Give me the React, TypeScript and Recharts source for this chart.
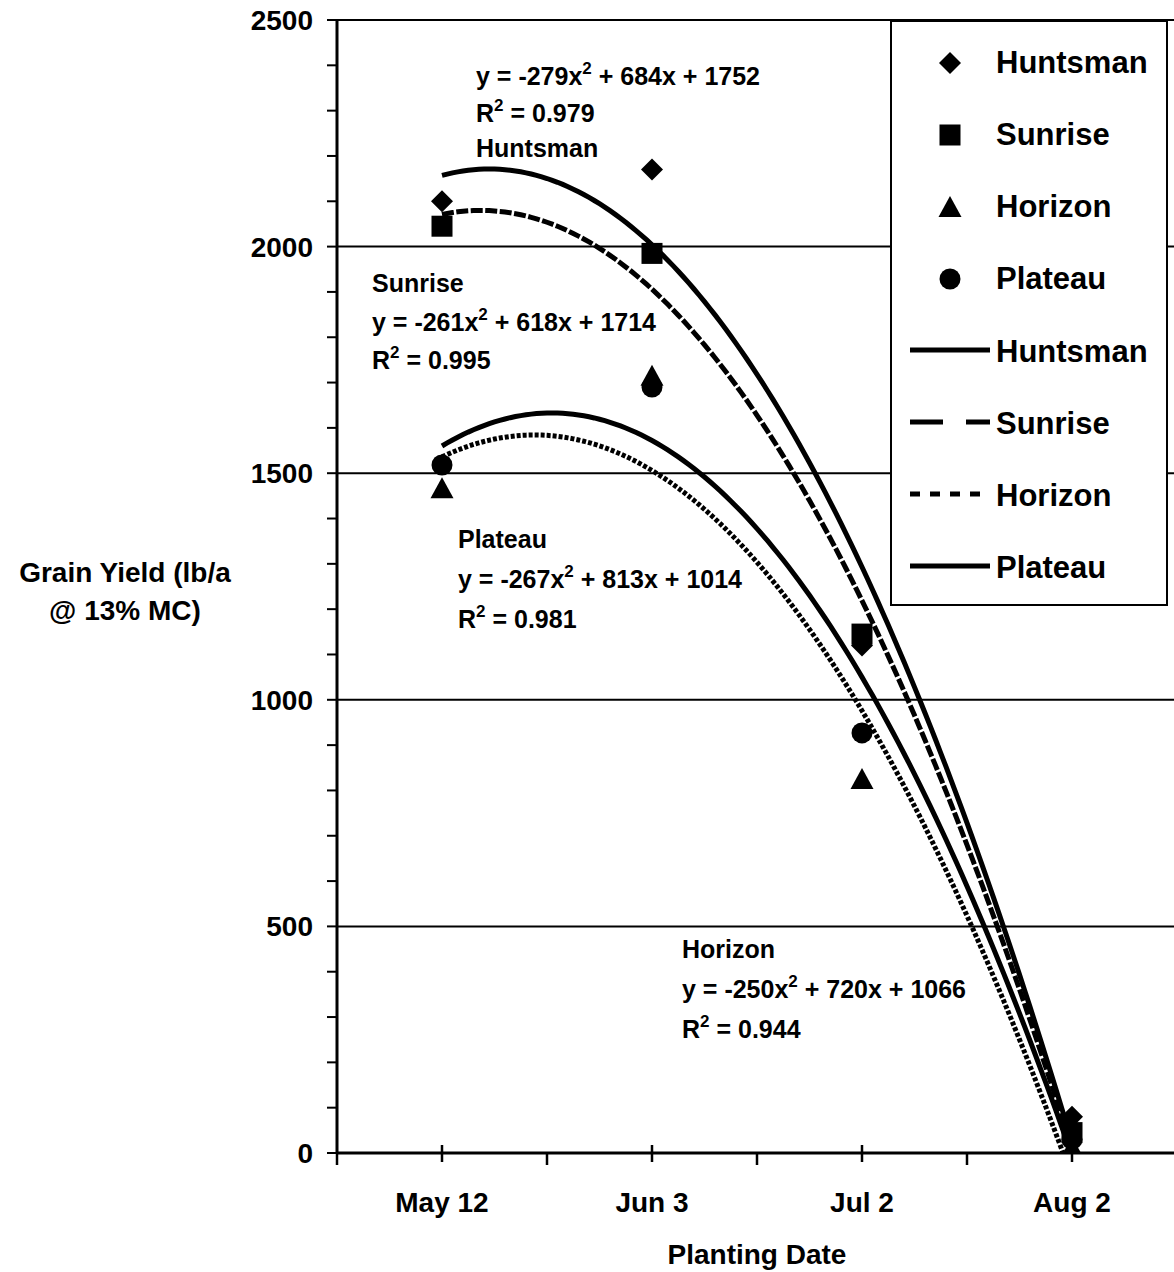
import React from "react";
import {
  ComposedChart,
  Line,
  Scatter,
  XAxis,
  YAxis,
  ReferenceLine,
} from "recharts";

// Planting dates (category positions 1..4)
const categories = ["May 12", "Jun 3", "Jul 2", "Aug 2"];
const positions = [1, 2, 3, 4];

// Observed grain yield (lb/a) per variety
const huntsman = [2100, 2170, 1120, 80];
const sunrise = [2045, 1985, 1145, 45];
const horizon = [1467, 1715, 825, 12];
const plateau = [1518, 1690, 927, 30];

// Quadratic trendline coefficients [a, b, c] from the chart: y = ax^2 + bx + c
const huntsmanFit = [-279, 684, 1752];
const sunriseFit = [-261, 618, 1714];
const horizonFit = [-250, 720, 1066];
const plateauFit = [-267, 813, 1014];

const yTicks = Array.from({ length: 26 }, (_, i) => i * 100);
const xTicks = [0.5, 1, 1.5, 2, 2.5, 3, 3.5, 4, 4.5];
const gridValues = [500, 1000, 1500, 2000, 2500];

const FONT = "'Liberation Sans', Arial, sans-serif";

const toPoints = (vals: number[]) =>
  vals.map((v, i) => ({ x: positions[i], y: v }));

const quad = (c: number[], x: number) => c[0] * x * x + c[1] * x + c[2];

// trendline drawn across the planting dates
const fitData = Array.from({ length: 121 }, (_, i) => {
  const x = 1 + i * 0.025;
  return {
    x,
    huntsman: quad(huntsmanFit, x),
    sunrise: quad(sunriseFit, x),
    horizon: quad(horizonFit, x),
    plateau: quad(plateauFit, x),
  };
});

const Diamond = ({ cx, cy }: any) => (
  <path d={`M${cx},${cy - 11}L${cx + 11},${cy}L${cx},${cy + 11}L${cx - 11},${cy}Z`} fill="#000" />
);
const Square = ({ cx, cy }: any) => (
  <rect x={cx - 10.5} y={cy - 10.5} width={21} height={21} fill="#000" />
);
const Triangle = ({ cx, cy }: any) => (
  <path d={`M${cx},${cy - 11}L${cx + 11.5},${cy + 10}L${cx - 11.5},${cy + 10}Z`} fill="#000" />
);
const Circle = ({ cx, cy }: any) => <circle cx={cx} cy={cy} r={10.5} fill="#000" />;

const XTick = ({ x, y, payload }: any) => {
  const v = payload.value;
  const major = Number.isInteger(v);
  return (
    <g>
      <line x1={x} x2={x} y1={major ? y - 8 : y} y2={major ? y + 9 : y + 12} stroke="#000" strokeWidth={2.5} />
      {major && (
        <text x={x} y={y + 59} textAnchor="middle" fontFamily={FONT} fontWeight="bold" fontSize={28} fill="#000">
          {categories[v - 1]}
        </text>
      )}
    </g>
  );
};

const YTick = ({ x, y, payload }: any) => {
  if (payload.value % 500 !== 0) return <g />;
  return (
    <text x={x} y={y + 10} textAnchor="end" fontFamily={FONT} fontWeight="bold" fontSize={28} fill="#000">
      {payload.value}
    </text>
  );
};

const Eq = ({ x, y, a, b, c }: any) => (
  <text x={x} y={y} fontFamily={FONT} fontWeight="bold" fontSize={25} fill="#000">
    {`y = ${a}x`}
    <tspan dy={-11} fontSize={17}>2</tspan>
    <tspan dy={11}>{` + ${b}x + ${c}`}</tspan>
  </text>
);
const R2 = ({ x, y, r }: any) => (
  <text x={x} y={y} fontFamily={FONT} fontWeight="bold" fontSize={25} fill="#000">
    R<tspan dy={-11} fontSize={17}>2</tspan>
    <tspan dy={11}>{` = ${r}`}</tspan>
  </text>
);
const Lbl = ({ x, y, t }: any) => (
  <text x={x} y={y} fontFamily={FONT} fontWeight="bold" fontSize={25} fill="#000">
    {t}
  </text>
);

const legendMarkers = [
  { name: "Huntsman", Shape: Diamond },
  { name: "Sunrise", Shape: Square },
  { name: "Horizon", Shape: Triangle },
  { name: "Plateau", Shape: Circle },
];
const legendLines = [
  { name: "Huntsman", dash: undefined },
  { name: "Sunrise", dash: "33 23" },
  { name: "Horizon", dash: "10 10" },
  { name: "Plateau", dash: undefined },
];

export default function App() {
  return (
    <div style={{ position: "absolute", left: 0, top: 0, width: 1174, height: 1272, overflow: "hidden", background: "#fff" }}>
      <ComposedChart
        width={1180}
        height={1272}
        data={fitData}
        margin={{ top: 20, right: 3, left: 0, bottom: 0 }}
      >
        {gridValues.map((v) => (
          <ReferenceLine key={v} y={v} stroke="#000" strokeWidth={2} />
        ))}
        <XAxis
          type="number"
          dataKey="x"
          domain={[0.5, 4.5]}
          ticks={xTicks}
          interval={0}
          height={119}
          tickSize={0}
          tickMargin={0}
          tickLine={false}
          tick={<XTick />}
          axisLine={{ stroke: "#000", strokeWidth: 3 }}
          label={{
            value: "Planting Date",
            position: "insideBottom",
            offset: 8,
            style: { fontFamily: FONT, fontWeight: "bold", fontSize: 28, fill: "#000" },
          }}
        />
        <YAxis
          type="number"
          domain={[0, 2500]}
          allowDataOverflow
          ticks={yTicks}
          interval={0}
          width={337}
          tickSize={10}
          tickMargin={14}
          tick={<YTick />}
          tickLine={{ stroke: "#000", strokeWidth: 2 }}
          axisLine={{ stroke: "#000", strokeWidth: 3 }}
        />
        <Scatter name="Huntsman" data={toPoints(huntsman)} dataKey="y" shape={Diamond} isAnimationActive={false} />
        <Scatter name="Sunrise" data={toPoints(sunrise)} dataKey="y" shape={Square} isAnimationActive={false} />
        <Scatter name="Horizon" data={toPoints(horizon)} dataKey="y" shape={Triangle} isAnimationActive={false} />
        <Scatter name="Plateau" data={toPoints(plateau)} dataKey="y" shape={Circle} isAnimationActive={false} />
        <Line dataKey="huntsman" type="linear" stroke="#000" strokeWidth={5} dot={false} activeDot={false} isAnimationActive={false} />
        <Line dataKey="sunrise" type="linear" stroke="#000" strokeWidth={5} strokeDasharray="12 2.5" dot={false} activeDot={false} isAnimationActive={false} />
        <Line dataKey="horizon" type="linear" stroke="#000" strokeWidth={5} strokeDasharray="4 2" dot={false} activeDot={false} isAnimationActive={false} />
        <Line dataKey="plateau" type="linear" stroke="#000" strokeWidth={5} dot={false} activeDot={false} isAnimationActive={false} />
      </ComposedChart>

      <svg width={1174} height={1272} style={{ position: "absolute", left: 0, top: 0, pointerEvents: "none" }}>
        {/* y-axis title */}
        <text x={125} y={582} textAnchor="middle" fontFamily={FONT} fontWeight="bold" fontSize={28} fill="#000">
          Grain Yield (lb/a
        </text>
        <text x={125} y={620} textAnchor="middle" fontFamily={FONT} fontWeight="bold" fontSize={28} fill="#000">
          @ 13% MC)
        </text>

        {/* trendline annotations */}
        <Eq x={476} y={85} a={huntsmanFit[0]} b={huntsmanFit[1]} c={huntsmanFit[2]} />
        <R2 x={476} y={122} r="0.979" />
        <Lbl x={476} y={157} t="Huntsman" />

        <Lbl x={372} y={292} t="Sunrise" />
        <Eq x={372} y={331} a={sunriseFit[0]} b={sunriseFit[1]} c={sunriseFit[2]} />
        <R2 x={372} y={369} r="0.995" />

        <Lbl x={458} y={548} t="Plateau" />
        <Eq x={458} y={588} a={plateauFit[0]} b={plateauFit[1]} c={plateauFit[2]} />
        <R2 x={458} y={628} r="0.981" />

        <Lbl x={682} y={958} t="Horizon" />
        <Eq x={682} y={998} a={horizonFit[0]} b={horizonFit[1]} c={horizonFit[2]} />
        <R2 x={682} y={1038} r="0.944" />

        {/* legend */}
        <rect x={891} y={21} width={276} height={584} fill="#fff" stroke="#000" strokeWidth={2} />
        {legendMarkers.map((m, i) => (
          <g key={"m" + m.name}>
            <m.Shape cx={950} cy={63 + i * 72} />
            <text x={996} y={73 + i * 72} fontFamily={FONT} fontWeight="bold" fontSize={31} fill="#000">
              {m.name}
            </text>
          </g>
        ))}
        {legendLines.map((l, i) => (
          <g key={"l" + l.name}>
            <line x1={910} x2={990} y1={350 + i * 72} y2={350 + i * 72} stroke="#000" strokeWidth={5} strokeDasharray={l.dash} />
            <text x={996} y={362 + i * 72} fontFamily={FONT} fontWeight="bold" fontSize={31} fill="#000">
              {l.name}
            </text>
          </g>
        ))}
      </svg>
    </div>
  );
}
